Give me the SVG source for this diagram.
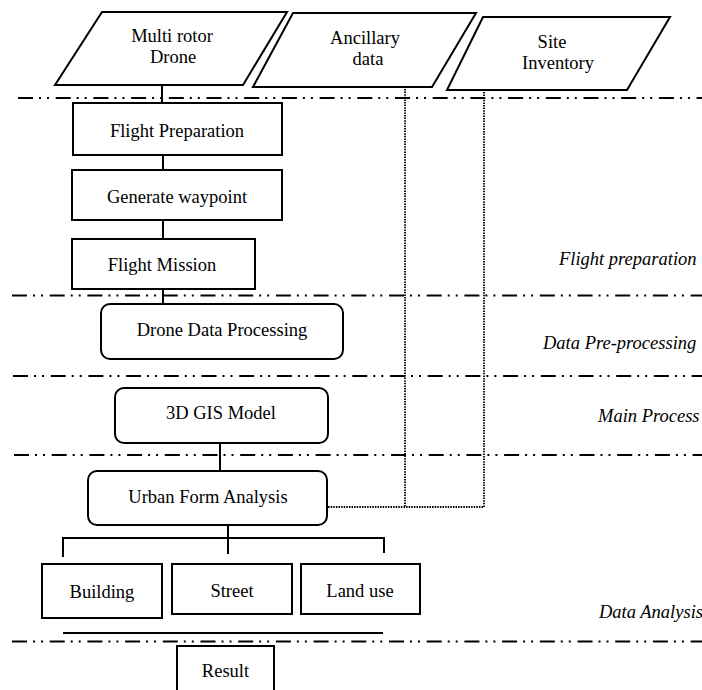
<svg xmlns="http://www.w3.org/2000/svg" width="702" height="690" viewBox="0 0 702 690">
<style>
text{font-family:"Liberation Serif","Times New Roman",Times,serif;font-size:18.5px;fill:#000;text-anchor:middle}
.lab{font-style:italic;text-anchor:start}
.box{fill:#fff;stroke:#000;stroke-width:2}
.sep{stroke:#000;stroke-width:2.2;stroke-dasharray:15 6 2 6 2 6.7;fill:none}
.con{stroke:#000;stroke-width:2;fill:none}
.dot{stroke:#000;stroke-width:1.8;stroke-dasharray:1.5 1.1;fill:none}
</style>
<rect width="702" height="690" fill="#fff"/>
<g id="separators">
<line class="sep" x1="18" y1="98" x2="702" y2="98"/>
<line class="sep" x1="12" y1="295.5" x2="702" y2="295.5"/>
<line class="sep" x1="13" y1="376" x2="702" y2="376"/>
<line class="sep" x1="14" y1="455" x2="702" y2="455"/>
<line class="sep" x1="12" y1="641.5" x2="702" y2="641.5"/>
</g>
<g id="connectors">
<line class="con" x1="162" y1="85" x2="162" y2="103"/>
<line class="con" x1="163" y1="155" x2="163" y2="170"/>
<line class="con" x1="163" y1="220" x2="163" y2="239"/>
<line class="con" x1="163" y1="289" x2="163" y2="304"/>
<line class="con" x1="220" y1="443" x2="220" y2="471"/>
<line class="con" x1="228" y1="525" x2="228" y2="554"/>
<polyline class="con" points="63,557 63,538 384,538 384,553"/>
<line class="con" x1="63" y1="633" x2="383" y2="633"/>
<polyline class="dot" points="405,89 405,507"/>
<polyline class="dot" points="484,92 484,507 328,507"/>
</g>
<g id="drone">
<polygon class="box" points="102,12 287,12 243,85 55,85"/>
<text x="172" y="42">Multi rotor</text>
<text x="173" y="63">Drone</text>
</g>
<g id="ancillary">
<polygon class="box" points="293,13 476,13 432,87 253,87"/>
<text x="365" y="44">Ancillary</text>
<text x="368" y="65">data</text>
</g>
<g id="site">
<polygon class="box" points="483,17 670,17 627,90 447,90"/>
<text x="552" y="48">Site</text>
<text x="558" y="69">Inventory</text>
</g>
<g id="flight-preparation">
<rect class="box" x="73" y="103" width="209" height="52"/>
<text x="177" y="137">Flight Preparation</text>
</g>
<g id="generate-waypoint">
<rect class="box" x="72" y="170" width="210" height="50"/>
<text x="177" y="203">Generate waypoint</text>
</g>
<g id="flight-mission">
<rect class="box" x="72" y="239" width="183" height="50"/>
<text x="162" y="271">Flight Mission</text>
</g>
<g id="drone-data-processing">
<rect class="box" x="101" y="304" width="242" height="55" rx="9"/>
<text x="222" y="336">Drone Data Processing</text>
</g>
<g id="gis-model">
<rect class="box" x="115" y="388" width="213" height="55" rx="9"/>
<text x="221" y="419">3D GIS Model</text>
</g>
<g id="urban-form">
<rect class="box" x="88" y="471" width="239" height="54" rx="9"/>
<text x="208" y="503">Urban Form Analysis</text>
</g>
<g id="building">
<rect class="box" x="42" y="564" width="120" height="54"/>
<text x="102" y="598">Building</text>
</g>
<g id="street">
<rect class="box" x="172" y="564" width="120" height="50"/>
<text x="232" y="597">Street</text>
</g>
<g id="land-use">
<rect class="box" x="301" y="564" width="119" height="50"/>
<text x="360" y="597">Land use</text>
</g>
<g id="result">
<rect class="box" x="177" y="646" width="97" height="52"/>
<text x="225.5" y="677">Result</text>
</g>
<g id="phase-labels">
<text class="lab" x="559" y="265">Flight preparation</text>
<text class="lab" x="543" y="349">Data Pre-processing</text>
<text class="lab" x="598" y="422">Main Process</text>
<text class="lab" x="599" y="618">Data Analysis</text>
</g>
</svg>
